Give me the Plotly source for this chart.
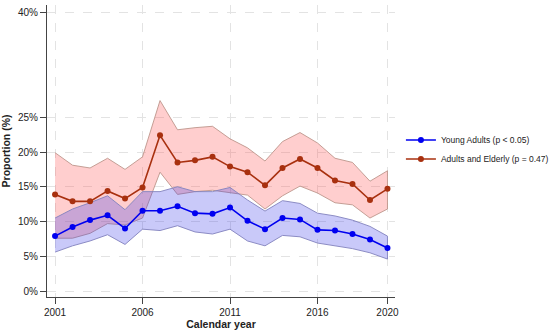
import plotly.graph_objects as go

years = list(range(2001, 2021))

young = [7.9, 9.2, 10.2, 10.9, 9.0, 11.55, 11.55, 12.2, 11.2, 11.1, 12.0, 10.1, 8.9, 10.5, 10.3, 8.8, 8.7, 8.2, 7.4, 6.2]
young_hi = [10.5, 11.8, 12.7, 13.7, 11.7, 14.3, 14.3, 15.0, 14.3, 14.3, 14.9, 13.1, 11.5, 13.0, 12.6, 11.2, 10.8, 10.2, 9.3, 7.9]
young_lo = [5.6, 6.5, 7.2, 8.1, 6.7, 8.9, 8.7, 9.4, 8.5, 8.2, 8.9, 7.2, 6.5, 8.0, 7.8, 6.9, 6.5, 6.1, 5.5, 4.6]

adult = [13.9, 12.9, 12.9, 14.4, 13.3, 14.9, 22.4, 18.5, 18.8, 19.3, 17.9, 17.1, 15.2, 17.7, 19.0, 17.7, 15.9, 15.4, 13.1, 14.7]
adult_hi = [19.9, 18.1, 17.7, 19.1, 17.5, 19.3, 27.4, 23.2, 23.5, 23.7, 21.9, 20.6, 18.7, 21.5, 22.8, 21.3, 19.1, 18.5, 15.8, 17.3]
adult_lo = [7.6, 7.6, 8.3, 9.7, 9.5, 10.5, 17.1, 13.9, 14.3, 14.5, 14.1, 13.8, 11.8, 13.7, 15.1, 14.1, 12.7, 12.4, 10.5, 11.8]

y_ticks = [0, 5, 10, 15, 20, 25, 40]
y_labels = [f"{t}%" for t in y_ticks]
x_ticks = [2001, 2006, 2011, 2016, 2020]
names = ["Young Adults (p < 0.05)", "Adults and Elderly (p = 0.47)"]

blue = "#0000f0"
red = "#a8300f"

fig = go.Figure()

# Confidence bands
fig.add_trace(go.Scatter(
    x=years + years[::-1], y=adult_hi + adult_lo[::-1],
    fill="toself", fillcolor="rgba(255,80,80,0.28)",
    line=dict(color="rgba(190,150,140,0.9)", width=1),
    mode="lines", showlegend=False, hoverinfo="skip"))
fig.add_trace(go.Scatter(
    x=years + years[::-1], y=young_hi + young_lo[::-1],
    fill="toself", fillcolor="rgba(60,60,235,0.28)",
    line=dict(color="rgba(130,130,190,0.9)", width=1),
    mode="lines", showlegend=False, hoverinfo="skip"))

fig.add_trace(go.Scatter(
    x=years, y=young, mode="lines+markers", name=names[0],
    line=dict(color=blue, width=1.6), marker=dict(color=blue, size=6)))
fig.add_trace(go.Scatter(
    x=years, y=adult, mode="lines+markers", name=names[1],
    line=dict(color=red, width=1.6), marker=dict(color=red, size=6)))

fig.update_layout(
    width=550, height=333,
    margin=dict(l=47, r=155, t=5, b=36, autoexpand=False),
    paper_bgcolor="white", plot_bgcolor="white",
    font=dict(family="Liberation Sans, Arial, sans-serif", size=10, color="#222"),
    legend=dict(x=1.017, y=0.505, xanchor="left", yanchor="middle",
                font=dict(size=8.5, color="#222"), bgcolor="rgba(0,0,0,0)",
                tracegroupgap=0),
)
fig.update_xaxes(
    range=[2000.54, 2020.43], tickvals=x_ticks, ticktext=[str(t) for t in x_ticks],
    showline=True, linecolor="#444", linewidth=1.2, ticks="outside", ticklen=6,
    tickcolor="#444", showgrid=True, gridcolor="#e3e3e3", griddash="dash",
    zeroline=False, automargin=False,
    title=dict(text="<b>Calendar year</b>", font=dict(size=10.5), standoff=3),
)
fig.update_yaxes(
    range=[-0.86, 41.15], tickvals=y_ticks, ticktext=y_labels,
    showline=True, linecolor="#444", linewidth=1.2, ticks="outside", ticklen=6,
    tickcolor="#444", showgrid=True, gridcolor="#e3e3e3", griddash="dash",
    zeroline=False, automargin=False,
    title=dict(text="<b>Proportion (%)</b>", font=dict(size=10.5), standoff=5),
)

fig.write_html("out.html", config={"displayModeBar": False},
               post_script="document.body.style.margin='0px';")
